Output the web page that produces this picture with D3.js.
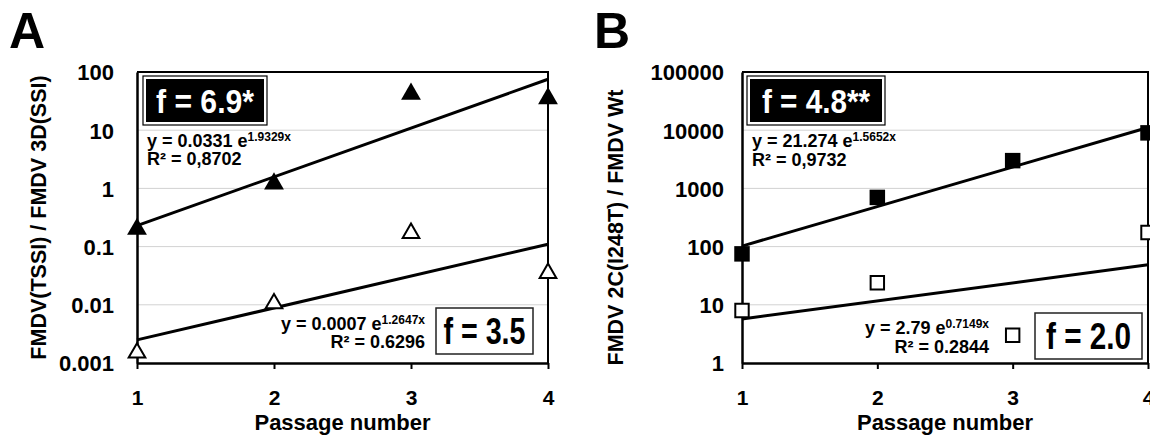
<!DOCTYPE html>
<html>
<head>
<meta charset="utf-8">
<script src="https://cdn.jsdelivr.net/npm/d3@7"></script>
<style>
  body { margin: 0; background: #fff; }
  text { font-family: "Liberation Sans", Arial, sans-serif; font-weight: bold; fill: #000; }
</style>
</head>
<body>
<div id="chart"></div>
<script>
// x categories (passage number) and the two ends of each fitted line
const passages = [1, 2, 3, 4];
const fitX = [1, 4];

// panel A : FMDV(TSSI) / FMDV 3D(SSI)
const aTicks = [0.001, 0.01, 0.1, 1, 10, 100];
const aTickLabels = ["0.001", "0.01", "0.1", "1", "10", "100"];
const aFilled = [0.2, 1.2, 42, 35];
const aOpen = [0.0015, 0.0105, 0.17, 0.035];
const aFilledFit = [0.229, 75];
const aOpenFit = [0.0025, 0.11];

// panel B : FMDV 2C(I248T) / FMDV Wt
const bTicks = [1, 10, 100, 1000, 10000, 100000];
const bTickLabels = ["1", "10", "100", "1000", "10000", "100000"];
const bFilled = [75, 700, 3000, 9000];
const bOpen = [8, 24, 3, 175];
const bFilledFit = [102, 11130];
const bOpenFit = [5.7, 48.7];

let svg = d3.select("#chart")
  .append("svg")
  .attr("width", 1150)
  .attr("height", 440);

function drawPanel(p) {
  let g = svg.append("g");

  let x = d3.scaleLinear().domain([1, 4]).range([p.left, p.right]);
  let y = d3.scaleLog().domain([p.ticks[0], p.ticks[p.ticks.length - 1]]).range([p.bottom, p.top]);

  // light grid at every decade
  g.selectAll(".grid")
    .data(p.ticks.slice(1, -1))
    .enter().append("line")
    .attr("x1", p.left).attr("x2", p.right)
    .attr("y1", d => y(d)).attr("y2", d => y(d))
    .attr("stroke", "#d2d2d2").attr("stroke-width", 1);

  // frame top + right
  g.append("path")
    .attr("d", `M${p.left},${p.top}H${p.right}V${p.bottom}`)
    .attr("fill", "none").attr("stroke", "#000").attr("stroke-width", 2);

  // axes
  let yAxis = g.append("g")
    .attr("transform", `translate(${p.left},0)`)
    .call(d3.axisLeft(y).tickValues(p.ticks).tickSize(0).tickPadding(p.labelPad)
      .tickFormat((d, i) => p.tickLabels[i]));
  yAxis.select(".domain").attr("stroke-width", 2.5);
  yAxis.selectAll("text").attr("font-size", 22).attr("dy", "0.36em")
    .style("font-family", "Liberation Sans, Arial, sans-serif").style("font-weight", "bold");

  let xAxis = g.append("g")
    .attr("transform", `translate(0,${p.bottom})`)
    .call(d3.axisBottom(x).tickValues(passages).tickSize(6).tickSizeOuter(0).tickFormat(d3.format("d")));
  xAxis.select(".domain").attr("stroke-width", 2.5);
  xAxis.selectAll(".tick line").attr("stroke-width", 2);
  xAxis.selectAll("text").attr("font-size", 21).attr("y", 42).attr("dy", null)
    .style("font-family", "Liberation Sans, Arial, sans-serif").style("font-weight", "bold");

  // fitted exponential lines
  let line = d3.line().x(d => x(d[0])).y(d => y(d[1]));
  [p.filledFit, p.openFit].forEach(fit => {
    g.append("path")
      .attr("d", line(fitX.map((v, i) => [v, fit[i]])))
      .attr("fill", "none").attr("stroke", "#000").attr("stroke-width", 3);
  });

  // markers
  let filledSym = d3.symbol().type(p.symbol).size(p.symSize);
  let openSym = d3.symbol().type(p.symbol).size(p.openSize);
  g.selectAll(".filled")
    .data(passages.map((v, i) => [v, p.filled[i]]))
    .enter().append("path")
    .attr("transform", d => `translate(${x(d[0])},${y(d[1])})`)
    .attr("d", filledSym).attr("fill", "#000");
  g.selectAll(".open")
    .data(passages.map((v, i) => [v, p.open[i]]))
    .enter().append("path")
    .attr("transform", d => `translate(${x(d[0])},${y(d[1])})`)
    .attr("d", openSym).attr("fill", "#fff").attr("stroke", "#000").attr("stroke-width", 2);

  // black f box (upper)
  let bb = p.blackBox;
  g.append("rect").attr("x", bb.x).attr("y", bb.y).attr("width", bb.w).attr("height", bb.h)
    .attr("fill", "#fff").attr("stroke", "#000").attr("stroke-width", 1.2);
  g.append("rect").attr("x", bb.x + 3).attr("y", bb.y + 3).attr("width", bb.w - 6).attr("height", bb.h - 6)
    .attr("fill", "#000");
  g.append("text").attr("x", bb.x + bb.w / 2).attr("y", bb.y + 37)
    .attr("text-anchor", "middle").attr("font-size", 34)
    .attr("textLength", bb.tw).attr("lengthAdjust", "spacingAndGlyphs")
    .style("fill", "#fff").text(p.fTop);

  // white f box (lower)
  let wb = p.whiteBox;
  g.append("rect").attr("x", wb.x).attr("y", wb.y).attr("width", wb.w).attr("height", wb.h)
    .attr("fill", "#fff").attr("stroke", "#222").attr("stroke-width", 1.5);
  g.append("text").attr("x", wb.x + wb.w / 2).attr("y", wb.y + 36)
    .attr("text-anchor", "middle").attr("font-size", 36)
    .attr("textLength", wb.tw).attr("lengthAdjust", "spacingAndGlyphs")
    .text(p.fBottom);

  // equations
  function eq(xp, yp, anchor, coef, expo, r2) {
    let t = g.append("text").attr("x", xp).attr("y", yp).attr("text-anchor", anchor).attr("font-size", 18);
    t.append("tspan").text("y = " + coef + " e");
    t.append("tspan").attr("dy", -6).attr("font-size", 12).text(expo + "x");
    g.append("text").attr("x", xp).attr("y", yp + p.eqGap).attr("text-anchor", anchor).attr("font-size", 18)
      .text("R² = " + r2);
  }
  eq(p.left + 10, 147, "start", p.eqTop[0], p.eqTop[1], p.eqTop[2]);
  eq(p.eqBotX, p.eqBotY, "end", p.eqBot[0], p.eqBot[1], p.eqBot[2]);

  // y title
  g.append("text")
    .attr("transform", `translate(${p.titleX},${(p.top + p.bottom) / 2 + p.titleDy}) rotate(-90)`)
    .attr("text-anchor", "middle").attr("font-size", 21.5)
    .text(p.yTitle);

  // x title
  g.append("text").attr("x", (p.left + p.right) / 2).attr("y", 430)
    .attr("text-anchor", "middle").attr("font-size", 22).text("Passage number");

  // panel letter
  g.append("text").attr("x", p.letterX).attr("y", 48).attr("font-size", 50).text(p.letter);
}

drawPanel({
  letter: "A", letterX: 9,
  left: 137, right: 548, top: 72, bottom: 363, labelPad: 23,
  ticks: aTicks, tickLabels: aTickLabels,
  filled: aFilled, open: aOpen, filledFit: aFilledFit, openFit: aOpenFit,
  symbol: d3.symbolTriangle, symSize: 170, openSize: 120,
  blackBox: { x: 143, y: 76, w: 124, h: 49, tw: 98 }, fTop: "f = 6.9*",
  whiteBox: { x: 436, y: 308, w: 97, h: 46, tw: 82 }, fBottom: "f = 3.5",
  eqTop: ["0.0331", "1.9329", "0,8702"], eqBot: ["0.0007", "1.2647", "0.6296"],
  eqBotX: 425, eqBotY: 330, eqGap: 18,
  yTitle: "FMDV(TSSI) / FMDV 3D(SSI)", titleX: 46, titleDy: 0
});

drawPanel({
  letter: "B", letterX: 594,
  left: 742, right: 1148, top: 72, bottom: 363, labelPad: 18,
  ticks: bTicks, tickLabels: bTickLabels,
  filled: bFilled, open: bOpen, filledFit: bFilledFit, openFit: bOpenFit,
  symbol: d3.symbolSquare, symSize: 240, openSize: 180,
  blackBox: { x: 747, y: 76, w: 138, h: 49, tw: 108 }, fTop: "f = 4.8**",
  whiteBox: { x: 1035, y: 313, w: 107, h: 46, tw: 85 }, fBottom: "f = 2.0",
  eqTop: ["21.274", "1.5652", "0,9732"], eqBot: ["2.79", "0.7149", "0.2844"],
  eqBotX: 989, eqBotY: 334, eqGap: 19,
  yTitle: "FMDV 2C(I248T) / FMDV Wt", titleX: 623, titleDy: 10
});
</script>
</body>
</html>
